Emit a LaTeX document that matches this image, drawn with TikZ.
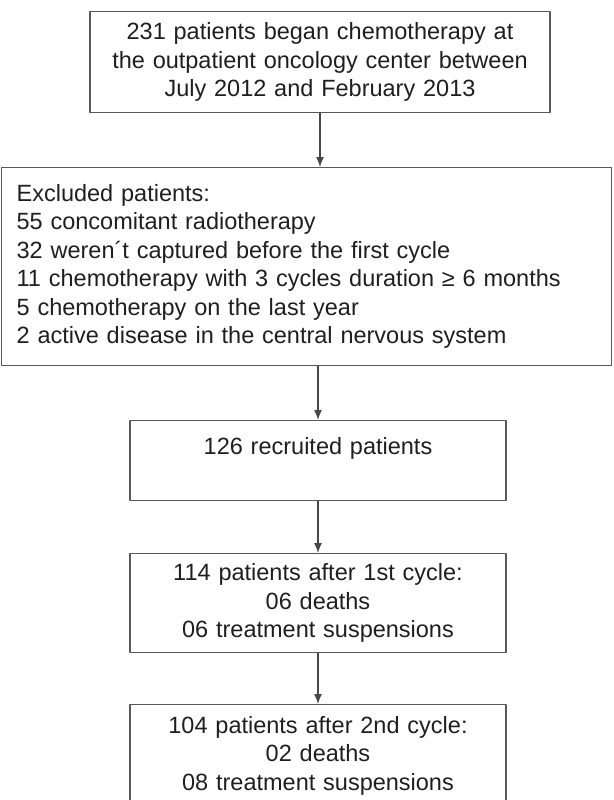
\documentclass[tikz,border=0pt]{standalone}
\usepackage{fontspec}
\setmainfont{Liberation Sans}
\usetikzlibrary{arrows.meta}

\begin{document}
\begin{tikzpicture}
      [x=1pt,y=-1pt,line cap=round,line join=round,
       box/.style={draw=black!65,line width=1.3pt,rectangle,inner xsep=12pt,inner ysep=0pt,
         text=black!88,font=\fontsize{23.5}{28.5}\selectfont},
       flow/.style={-{Latex[length=10pt,width=8pt]},draw=black!72,line width=1.3pt}]%main layer

%page frame
\useasboundingbox (0,0) rectangle (613,800);
\clip (0,0) rectangle (613,800);

%the boxes, top to bottom
\node[box,anchor=north,minimum height=101pt,text width=436pt,align=center] (start) at (320,11)
   {231 patients began chemotherapy at\\ the outpatient oncology center between\\ July 2012 and February 2013};
\node[box,anchor=north west,minimum height=198pt,inner xsep=15pt,text width=580pt,align=left] (excl) at (1,167)
   {Excluded patients:\\
    55 concomitant radiotherapy\\
    32 weren´t captured before the first cycle\\
    11 chemotherapy with 3 cycles duration ≥ 6 months\\
    5 chemotherapy on the last year\\
    2 active disease in the central nervous system};
\node[box,anchor=north,minimum height=80pt,text width=352pt,align=center] (recr) at (318,420)
   {126 recruited patients\\ \mbox{}};
\node[box,anchor=north,minimum height=99pt,text width=352pt,align=center] (cyc1) at (318,553)
   {114 patients after 1st cycle:\\ 06 deaths\\ 06 treatment suspensions};
\node[box,anchor=north,minimum height=102pt,text width=352pt,align=center] (cyc2) at (318,704)
   {104 patients after 2nd cycle:\\ 02 deaths\\ 08 treatment suspensions};

%arrows
\draw[flow] (start.south) -- (start.south |- excl.north);
\draw[flow] (recr.north |- excl.south) -- (recr.north);
\draw[flow] (recr.south) -- (cyc1.north);
\draw[flow] (cyc1.south) -- (cyc2.north);

\end{tikzpicture}
\end{document}
